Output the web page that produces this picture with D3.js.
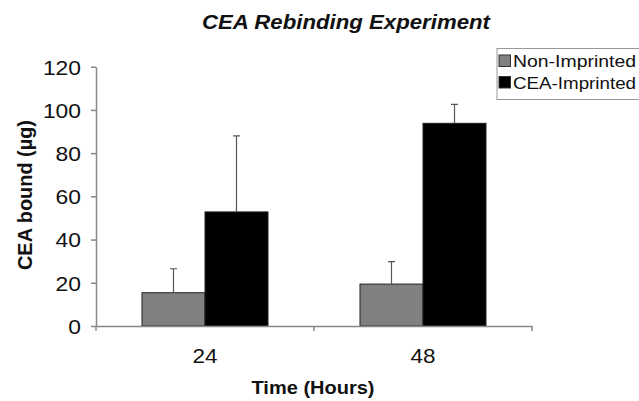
<!DOCTYPE html>
<html><head><meta charset="utf-8">
<script src="https://cdn.jsdelivr.net/npm/d3@7"></script>
<style>body{margin:0;background:#fff}svg{display:block}</style>
</head><body>
<svg id="c" width="639" height="401"></svg>
<script>
const times = ["24", "48"];
const series = ["Non-Imprinted", "CEA-Imprinted"];
const nonImprinted = [15.4, 19.4];
const nonImprintedErr = [11.1, 10.4];
const ceaImprinted = [52.8, 93.8];
const ceaImprintedErr = [35.2, 8.8];
const yTicks = [0, 20, 40, 60, 80, 100, 120];
const colors = ["#808080", "#000000"];

const svg = d3.select("#c");
const font = "Arial, 'Liberation Sans', sans-serif";
const x0 = d3.scaleBand().domain(times).range([96, 532]).padding(0);
const x1 = d3.scaleBand().domain(series).range([0, x0.bandwidth()]).paddingInner(0).paddingOuter(0.73);
const y = d3.scaleLinear().domain([0, 120]).range([326, 66.7]);

const data = times.map((t, i) => ({
  t, vals: [
    {s: series[0], v: nonImprinted[i], e: nonImprintedErr[i], c: colors[0]},
    {s: series[1], v: ceaImprinted[i], e: ceaImprintedErr[i], c: colors[1]}
  ]}));

// title
svg.append("text").attr("x", 346).attr("y", 29).attr("text-anchor", "middle")
  .attr("textLength", 288).attr("lengthAdjust", "spacingAndGlyphs")
  .style("font-family", font).style("font-weight", "bold").style("font-style", "italic")
  .style("font-size", "20px").attr("fill", "#111").text("CEA Rebinding Experiment");

// bars
const g = svg.append("g").selectAll("g").data(data).join("g")
  .attr("transform", d => `translate(${x0(d.t)},0)`);
g.selectAll("rect").data(d => d.vals).join("rect")
  .attr("x", d => x1(d.s)).attr("width", x1.bandwidth())
  .attr("y", d => y(d.v)).attr("height", d => y(0) - y(d.v))
  .attr("fill", d => d.c).attr("stroke", "#222").attr("stroke-width", 1);
// error bars
g.selectAll("path.err").data(d => d.vals).join("path").attr("class", "err")
  .attr("d", d => {
    const cx = x1(d.s) + x1.bandwidth() / 2;
    return `M${cx},${y(d.v)}V${y(d.v + d.e)}M${cx - 3.5},${y(d.v + d.e)}H${cx + 3.5}`;
  })
  .attr("stroke", "#555").attr("stroke-width", 1.2).attr("fill", "none");

// y axis
const ya = svg.append("g").attr("transform", "translate(96,0)")
  .call(d3.axisLeft(y).tickValues(yTicks).tickSize(5).tickPadding(10).tickSizeOuter(0));
ya.select(".domain").attr("stroke", "#888").attr("stroke-width", 1.5);
ya.selectAll(".tick line").attr("stroke", "#888").attr("stroke-width", 1.5);
ya.selectAll("text").style("font-family", font).style("font-size", "21px").attr("fill", "#111")
  .attr("dy", "0.35em").attr("textLength", d => String(d).length * 12.7).attr("lengthAdjust", "spacingAndGlyphs");

// x axis
const xa = svg.append("g").attr("transform", "translate(0,326)")
  .call(d3.axisBottom(x0).tickSize(0).tickPadding(23));
xa.select(".domain").attr("stroke", "#888").attr("stroke-width", 1.5);
xa.selectAll("text").style("font-family", font).style("font-size", "20px").attr("fill", "#111")
  .attr("textLength", 25).attr("lengthAdjust", "spacingAndGlyphs");
const bounds = [x0(times[0]), x0(times[1]), x0(times[1]) + x0.bandwidth()];
svg.append("g").selectAll("line").data(bounds).join("line")
  .attr("x1", d => d).attr("x2", d => d).attr("y1", 326).attr("y2", 331)
  .attr("stroke", "#888").attr("stroke-width", 1.5);

// axis titles
svg.append("text").attr("transform", "translate(32,195) rotate(-90)").attr("text-anchor", "middle")
  .attr("textLength", 150).attr("lengthAdjust", "spacingAndGlyphs")
  .style("font-family", font).style("font-weight", "bold").style("font-size", "20px").attr("fill", "#111").text("CEA bound (µg)");
svg.append("text").attr("x", 313).attr("y", 394).attr("text-anchor", "middle")
  .attr("textLength", 123).attr("lengthAdjust", "spacingAndGlyphs")
  .style("font-family", font).style("font-weight", "bold").style("font-size", "18px").attr("fill", "#111").text("Time (Hours)");

// legend
const lg = svg.append("g");
lg.append("rect").attr("x", 497).attr("y", 48.5).attr("width", 150).attr("height", 51)
  .attr("fill", "#fff").attr("stroke", "#999").attr("stroke-width", 1);
const li = lg.selectAll("g").data(series).join("g")
  .attr("transform", (d, i) => `translate(499,${55 + i * 21.5})`);
li.append("rect").attr("width", 11.5).attr("height", 11.5).attr("fill", (d, i) => colors[i]).attr("stroke", "#333");
li.append("text").attr("x", 14).attr("y", 12).style("font-family", font).style("font-size", "16px").attr("fill", "#111")
  .attr("textLength", 123).attr("lengthAdjust", "spacingAndGlyphs").text(d => d);
</script>
</body></html>
